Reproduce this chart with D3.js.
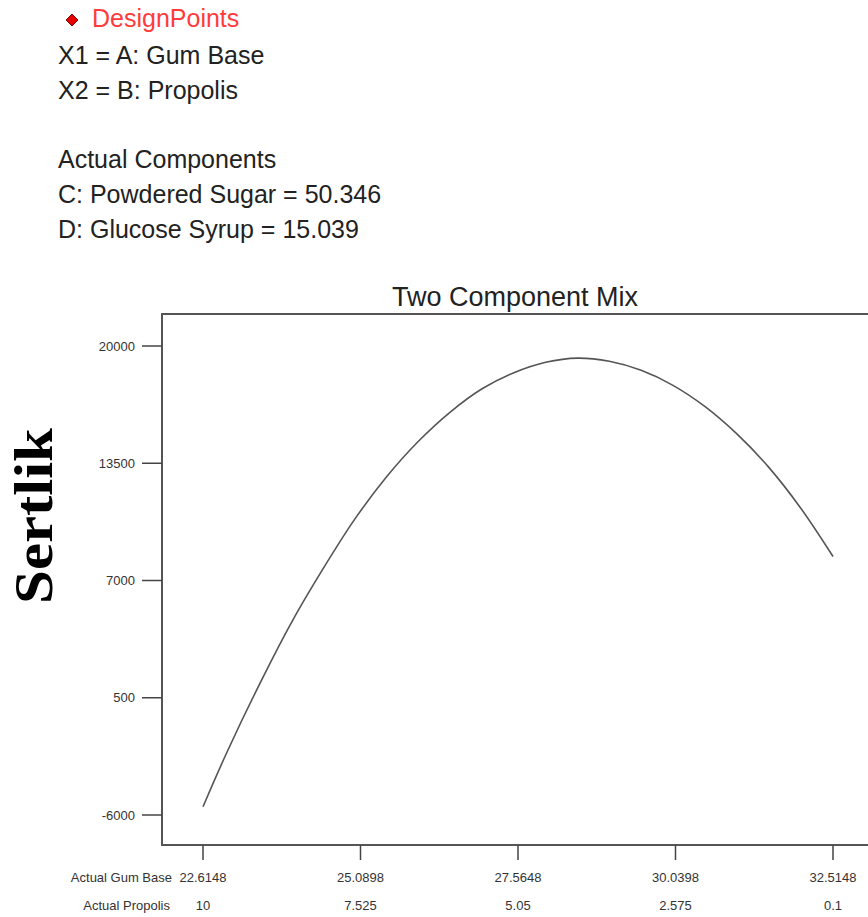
<!DOCTYPE html>
<html>
<head>
<meta charset="utf-8">
<script src="https://cdn.jsdelivr.net/npm/d3@7"></script>
<style>
  html, body { margin: 0; padding: 0; background: #fff; }
  svg { display: block; }
</style>
</head>
<body>
<script>
// ---- data ----
const headerLines = ["X1 = A: Gum Base", "X2 = B: Propolis", "", "Actual Components",
                     "C: Powdered Sugar = 50.346", "D: Glucose Syrup = 15.039"];
const legendLabel = "DesignPoints";
const chartTitle = "Two Component Mix";
const yTitle = "Sertlik";
const yTicks = [-6000, 500, 7000, 13500, 20000];
const gumTicks = [22.6148, 25.0898, 27.5648, 30.0398, 32.5148];
const propolisTicks = ["10", "7.525", "5.05", "2.575", "0.1"];
const gumBase = [22.6148, 23.0, 23.5, 24.0, 24.5, 25.0, 25.5, 26.0, 26.5, 27.0, 27.5,
                 28.0, 28.5, 29.0, 29.5, 30.0, 30.5, 31.0, 31.5, 32.0, 32.5148];
const sertlik = [-5540, -2450, 1230, 4640, 7640, 10400, 12750, 14720, 16340, 17630, 18520,
                 19100, 19330, 19150, 18650, 17820, 16650, 15140, 13300, 11050, 8330];

// ---- layout ----
const W = 868, H = 917;
const svg = d3.select("body").append("svg").attr("width", W).attr("height", H);
const font = "'Liberation Sans', Arial, sans-serif";

const x = d3.scaleLinear().domain([gumTicks[0], gumTicks[gumTicks.length - 1]]).range([203, 833]);
const y = d3.scaleLinear().domain([-6000, 20000]).range([815, 346]);
const frame = { left: 162, top: 314, right: 900, bottom: 845 };

// header
svg.append("path")
  .attr("d", "M0,-6L6,0L0,6L-6,0Z")
  .attr("transform", "translate(72,20)")
  .attr("fill", "#e80000").attr("stroke", "#6a1010").attr("stroke-width", 1);
svg.append("text").attr("x", 92).attr("y", 27).text(legendLabel)
  .attr("font-family", font).attr("font-size", 25).attr("fill", "#ff3b3b");
headerLines.forEach((t, i) => {
  if (!t) return;
  svg.append("text").attr("x", 58).attr("y", 64 + i * 35 - (i >= 3 ? 1 : 0)).text(t)
    .attr("font-family", font).attr("font-size", 25).attr("fill", "#222");
});

// title
svg.append("text").attr("x", 515).attr("y", 306).attr("text-anchor", "middle")
  .text(chartTitle).attr("font-family", font).attr("font-size", 27).attr("fill", "#222");

// frame
svg.append("rect").attr("x", frame.left).attr("y", frame.top)
  .attr("width", frame.right - frame.left).attr("height", frame.bottom - frame.top)
  .attr("fill", "none").attr("stroke", "#555").attr("stroke-width", 2);

// y axis ticks
const yg = svg.append("g");
yTicks.forEach(v => {
  yg.append("line").attr("x1", frame.left - 20).attr("x2", frame.left)
    .attr("y1", y(v)).attr("y2", y(v)).attr("stroke", "#444").attr("stroke-width", 1.5);
  yg.append("text").attr("x", frame.left - 27).attr("y", y(v)).attr("dy", "0.35em")
    .attr("text-anchor", "end").text(v).attr("font-family", font)
    .attr("font-size", 13).attr("fill", "#333");
});

// x axis ticks
const xg = svg.append("g");
gumTicks.forEach((v, i) => {
  xg.append("line").attr("x1", x(v)).attr("x2", x(v))
    .attr("y1", frame.bottom).attr("y2", frame.bottom + 15).attr("stroke", "#444").attr("stroke-width", 1.5);
  xg.append("text").attr("x", x(v)).attr("y", 882).attr("text-anchor", "middle")
    .text(v.toFixed(4)).attr("font-family", font).attr("font-size", 13).attr("fill", "#333");
  xg.append("text").attr("x", x(v)).attr("y", 910).attr("text-anchor", "middle")
    .text(propolisTicks[i]).attr("font-family", font).attr("font-size", 13).attr("fill", "#333");
});
xg.append("text").attr("x", 172).attr("y", 882).attr("text-anchor", "end")
  .text("Actual Gum Base").attr("font-family", font).attr("font-size", 13).attr("fill", "#333");
xg.append("text").attr("x", 170).attr("y", 910).attr("text-anchor", "end")
  .text("Actual Propolis").attr("font-family", font).attr("font-size", 13).attr("fill", "#333");

// y title
svg.append("text")
  .attr("transform", "translate(52,516) rotate(-90)")
  .attr("text-anchor", "middle")
  .attr("textLength", 176).attr("lengthAdjust", "spacingAndGlyphs")
  .text(yTitle)
  .attr("font-family", "'Liberation Serif', 'Times New Roman', serif")
  .attr("font-weight", "bold").attr("font-size", 54).attr("fill", "#000");

// curve
const pts = gumBase.map((g, i) => [g, sertlik[i]]);
svg.append("path").datum(pts)
  .attr("d", d3.line().x(d => x(d[0])).y(d => y(d[1])).curve(d3.curveCatmullRom.alpha(0.5)))
  .attr("fill", "none").attr("stroke", "#555").attr("stroke-width", 1.6);
</script>
</body>
</html>
